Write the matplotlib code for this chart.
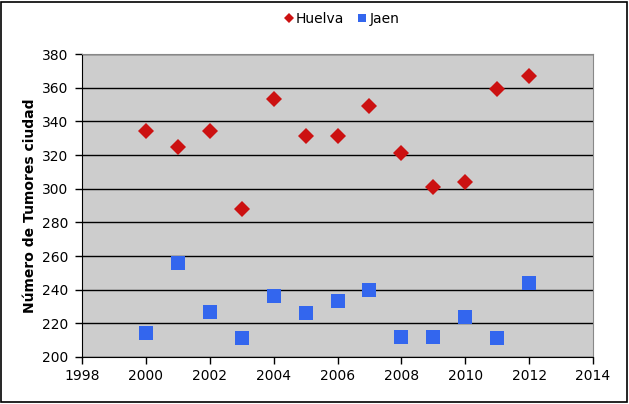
import matplotlib.pyplot as plt
from matplotlib.patches import Rectangle

years = [2000, 2001, 2002, 2003, 2004, 2005, 2006, 2007, 2008, 2009, 2010, 2011, 2012]
huelva = [334, 325, 334, 288, 353, 331, 331, 349, 321, 301, 304, 359, 367]
jaen = [214, 256, 227, 211, 236, 226, 233, 240, 212, 212, 224, 211, 244]

xticks = [1998, 2000, 2002, 2004, 2006, 2008, 2010, 2012, 2014]
yticks = [200, 220, 240, 260, 280, 300, 320, 340, 360, 380]

plt.rcParams['font.family'] = ['DejaVu Sans']

fig = plt.figure(figsize=(6.29, 4.04), dpi=100)
ax = fig.add_axes([82/629, 47/404, 511/629, 303/404])
ax.set_facecolor('#CDCDCD')

ax.plot(years, huelva, 'D', color='#CC1111', markersize=7.8, markeredgewidth=0, label='Huelva', zorder=3)
ax.plot(years, jaen, 's', color='#3366EE', markersize=9.8, markeredgewidth=0, label='Jaen', zorder=3)

ax.set_xlim(1998, 2014)
ax.set_ylim(200, 380)
ax.set_xticks(xticks)
ax.set_yticks(yticks)
ax.yaxis.grid(True, color='black', linewidth=1)
ax.set_axisbelow(True)
ax.tick_params(axis='both', direction='out', length=5, width=1, labelsize=10, color='black')
ax.tick_params(axis='y', pad=5)

ax.spines['left'].set_color('black')
ax.spines['bottom'].set_color('black')
ax.spines['top'].set_color('#888888')
ax.spines['right'].set_color('#888888')

fig.text(30/629, 1 - 206/404, 'Número de Tumores ciudad', rotation=90,
         ha='center', va='center', fontsize=10, fontweight='bold')

fig.legend(loc='center', bbox_to_anchor=(342/629, 1 - 19/404), ncol=2, frameon=False,
           fontsize=10, handlelength=0.6, handletextpad=0.2, columnspacing=1.0,
           markerscale=0.6)

fig.patches.append(Rectangle((1/629, 2/404), 626/629, 400/404, transform=fig.transFigure,
                             fill=False, edgecolor='black', linewidth=1.2))

fig.savefig('out.png', dpi=100)
